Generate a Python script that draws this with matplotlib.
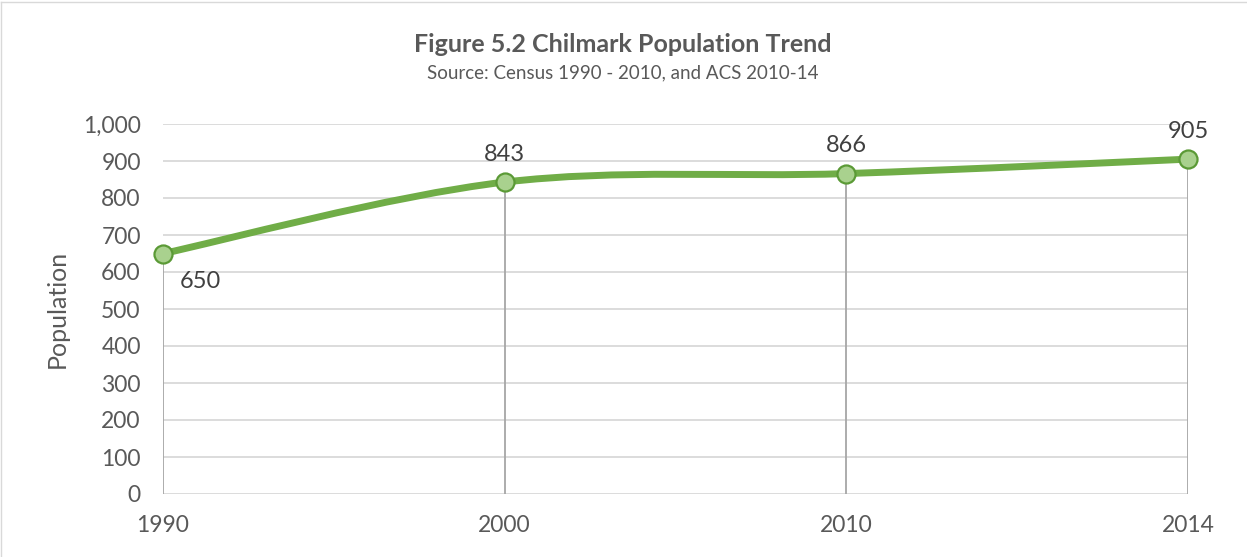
import matplotlib
matplotlib.use('Agg')
import matplotlib.pyplot as plt
from matplotlib.path import Path
from matplotlib.patches import PathPatch
import numpy as np

plt.rcParams['font.family'] = ['Lato', 'DejaVu Sans']

# Data
years = ['1990', '2000', '2010', '2014']
population = [650, 843, 866, 905]
y_ticks = [0, 100, 200, 300, 400, 500, 600, 700, 800, 900, 1000]

fig = plt.figure(figsize=(12.47, 5.57), dpi=100)
ax = fig.add_axes([163 / 1247, 1 - 494 / 557, (1188 - 163) / 1247, (494 - 124) / 557])

x = np.arange(len(years))
y = np.array(population, dtype=float)

# smoothed line, Excel-like (Catmull-Rom as bezier segments)
verts = [(x[0], y[0])]
codes = [Path.MOVETO]
n = len(x)
for i in range(n - 1):
    p0 = (x[max(i - 1, 0)], y[max(i - 1, 0)])
    p1 = (x[i], y[i])
    p2 = (x[i + 1], y[i + 1])
    p3 = (x[min(i + 2, n - 1)], y[min(i + 2, n - 1)])
    c1 = (p1[0] + (p2[0] - p0[0]) / 6, p1[1] + (p2[1] - p0[1]) / 6)
    c2 = (p2[0] - (p3[0] - p1[0]) / 6, p2[1] - (p3[1] - p1[1]) / 6)
    verts += [c1, c2, p2]
    codes += [Path.CURVE4] * 3

# gridlines
for t in y_ticks:
    ax.axhline(t, color='#d9d9d9', lw=1.3, zorder=1)

# drop lines
ax.vlines(x, 0, y, color='#a6a6a6', lw=1.3, zorder=2)

ax.add_patch(PathPatch(Path(verts, codes), facecolor='none', edgecolor='#70ad47',
                       lw=5, capstyle='round', joinstyle='round', zorder=3, clip_on=False))
ax.plot(x, y, 'o', ms=13, mfc='#a9d18e', mec='#5b9a36', mew=1.6, zorder=4, clip_on=False)

# data labels
for i, v in enumerate(population):
    if i == 0:
        ax.annotate(f'{v}', (x[i], y[i]), xytext=(12, -20), textcoords='offset points',
                    ha='left', va='center', fontsize=17, color='#404040')
    else:
        ax.annotate(f'{v}', (x[i], y[i]), xytext=(0, 20), textcoords='offset points',
                    ha='center', va='center', fontsize=17, color='#404040')

ax.set_xlim(0, n - 1)
ax.set_ylim(0, 1000)
ax.set_xticks(x)
ax.set_xticklabels(years)
ax.set_yticks(y_ticks)
ax.set_yticklabels([f'{t:,}' for t in y_ticks])
ax.tick_params(axis='both', length=0, labelsize=16.5, colors='#595959')
ax.tick_params(axis='x', pad=15)
ax.tick_params(axis='y', pad=16)
for s in ax.spines.values():
    s.set_visible(False)
ax.set_ylabel('Population', fontsize=18, color='#595959', labelpad=10)

fig.text(623 / 1247, 1 - 45 / 557, 'Figure 5.2 Chilmark Population Trend', ha='center',
         va='center', fontsize=18, fontweight='bold', color='#595959')
fig.text(623 / 1247, 1 - 73 / 557, 'Source: Census 1990 - 2010, and ACS 2010-14', ha='center',
         va='center', fontsize=13.5, color='#595959')

# faint chart frame
fig.add_artist(plt.Line2D([0.001, 0.001], [0, 0.997], transform=fig.transFigure, color='#d9d9d9', lw=1))
fig.add_artist(plt.Line2D([0.001, 1], [0.997, 0.997], transform=fig.transFigure, color='#d9d9d9', lw=1))

fig.savefig('out.png', dpi=100)
